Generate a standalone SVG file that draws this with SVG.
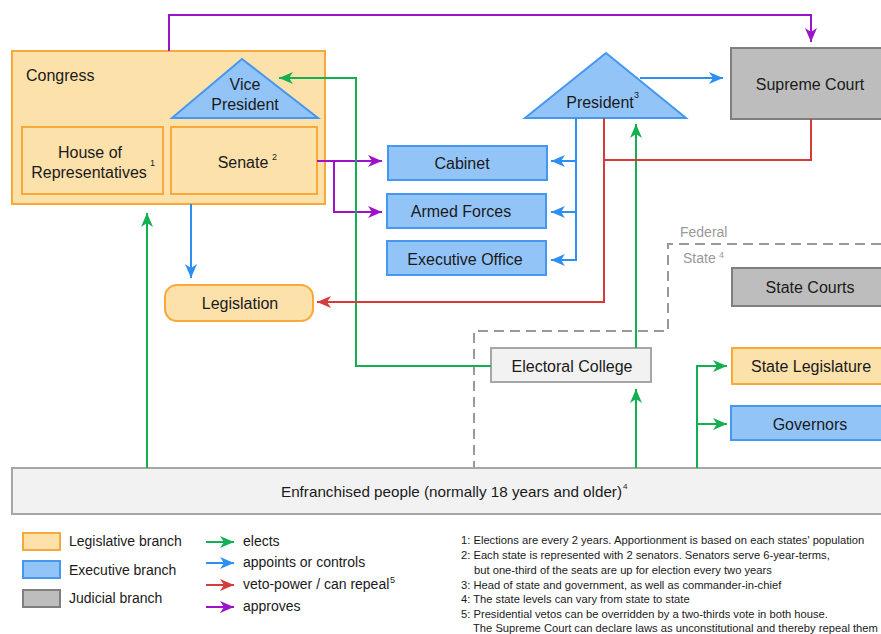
<svg xmlns="http://www.w3.org/2000/svg" width="881" height="634" viewBox="0 0 881 634">
<style>
text{font-family:"Liberation Sans",Arial,sans-serif;fill:#1a1a1a}
.lbl{font-size:16px;text-anchor:middle}
.sup{font-size:9px}
.leg{fill:#fde1ab;stroke:#f9a83b;stroke-width:2}
.exe{fill:#93c4f8;stroke:#4597ef;stroke-width:2}
.jud{fill:#bdbdbd;stroke:#7f7f7f;stroke-width:2}
.neu{fill:#f2f2f2;stroke:#a6a6a6;stroke-width:2}
.c{fill:none;stroke-width:2}
.g{stroke:#12b050}
.b{stroke:#2d8ff2}
.r{stroke:#d63b3b}
.p{stroke:#9d14c8}
.note{font-size:11.2px}
.lt{font-size:14px}
</style>
<defs>
<marker id="ag" viewBox="0 0 14 12" refX="14" refY="6" markerWidth="14" markerHeight="12" markerUnits="userSpaceOnUse" orient="auto"><path d="M0,0 L14,6 L0,12 L4,6 z" fill="#12b050"/></marker>
<marker id="ab" viewBox="0 0 14 12" refX="14" refY="6" markerWidth="14" markerHeight="12" markerUnits="userSpaceOnUse" orient="auto"><path d="M0,0 L14,6 L0,12 L4,6 z" fill="#2d8ff2"/></marker>
<marker id="ar" viewBox="0 0 14 12" refX="14" refY="6" markerWidth="14" markerHeight="12" markerUnits="userSpaceOnUse" orient="auto"><path d="M0,0 L14,6 L0,12 L4,6 z" fill="#d63b3b"/></marker>
<marker id="ap" viewBox="0 0 14 12" refX="14" refY="6" markerWidth="14" markerHeight="12" markerUnits="userSpaceOnUse" orient="auto"><path d="M0,0 L14,6 L0,12 L4,6 z" fill="#9d14c8"/></marker>
</defs>
<rect width="881" height="634" fill="#ffffff"/>

<g id="federal-state-border">
<path d="M881,244 H668 V331 H474 V468" fill="none" stroke="#999" stroke-width="2" stroke-dasharray="10,6"/>
<text x="680" y="237" style="font-size:14px;fill:#999">Federal</text>
<text x="683" y="263" style="font-size:14px;fill:#999">State</text>
<text x="719" y="258" style="font-size:9px;fill:#999">4</text>
</g>

<g id="congress">
<rect x="12" y="51" width="313" height="153" class="leg"/>
<text x="26" y="81" style="font-size:16px">Congress</text>
</g>
<g id="vice-president">
<path d="M242,59 L172,118 L318,118 z" class="exe"/>
<text x="245" y="90" class="lbl">Vice</text>
<text x="245" y="110" class="lbl">President</text>
</g>
<g id="house">
<rect x="22" y="127" width="141" height="67" class="leg"/>
<text x="90" y="158" class="lbl">House of</text>
<text x="89" y="178" class="lbl">Representatives</text>
<text x="150" y="166" class="sup">1</text>
</g>
<g id="senate">
<rect x="171" y="127" width="146" height="67" class="leg"/>
<text x="243" y="168" class="lbl">Senate</text>
<text x="272" y="160" class="sup">2</text>
</g>

<g id="cabinet">
<rect x="388" y="146" width="159" height="34" class="exe"/>
<text x="462" y="169" class="lbl">Cabinet</text>
</g>
<g id="armed-forces">
<rect x="387" y="194" width="159" height="34" class="exe"/>
<text x="461" y="217" class="lbl">Armed Forces</text>
</g>
<g id="executive-office">
<rect x="387" y="241" width="159" height="34" class="exe"/>
<text x="465" y="265" class="lbl">Executive Office</text>
</g>

<g id="president">
<path d="M606,53 L525,118 L686,118 z" class="exe"/>
<text x="600" y="108" class="lbl">President</text>
<text x="634" y="98" class="sup">3</text>
</g>

<g id="supreme-court">
<rect x="731" y="48" width="160" height="71" class="jud"/>
<text x="810" y="90" class="lbl">Supreme Court</text>
</g>

<g id="legislation">
<rect x="165" y="285" width="148" height="36" rx="12" class="leg"/>
<text x="240" y="309" class="lbl">Legislation</text>
</g>

<g id="state-courts">
<rect x="732" y="268" width="160" height="38" class="jud"/>
<text x="810" y="293" class="lbl">State Courts</text>
</g>
<g id="state-legislature">
<rect x="732" y="348" width="160" height="36" class="leg"/>
<text x="811" y="372" class="lbl">State Legislature</text>
</g>
<g id="governors">
<rect x="731" y="406" width="160" height="34" class="exe"/>
<text x="810" y="430" class="lbl">Governors</text>
</g>

<g id="electoral-college">
<rect x="491" y="348" width="160" height="34" class="neu"/>
<text x="572" y="372" class="lbl">Electoral College</text>
</g>

<g id="people">
<rect x="12" y="468" width="880" height="46" class="neu"/>
<text x="281" y="497" style="font-size:15px" textLength="341" lengthAdjust="spacingAndGlyphs">Enfranchised people (normally 18 years and older)</text>
<text x="623" y="489" style="font-size:8px">4</text>
</g>

<g id="connectors">
<path d="M169,51 V15 H811 V42" class="c p" marker-end="url(#ap)"/>
<path d="M317,161 H382" class="c p" marker-end="url(#ap)"/>
<path d="M334,161 V212 H382" class="c p" marker-end="url(#ap)"/>

<path d="M491,366 H356 V78 H279" class="c g" marker-end="url(#ag)"/>
<path d="M147,468 V213" class="c g" marker-end="url(#ag)"/>
<path d="M636,468 V389" class="c g" marker-end="url(#ag)"/>
<path d="M636,348 V124" class="c g" marker-end="url(#ag)"/>
<path d="M697,468 V366 H727" class="c g" marker-end="url(#ag)"/>
<path d="M697,424 H727" class="c g" marker-end="url(#ag)"/>

<path d="M640,78 H723" class="c b" marker-end="url(#ab)"/>
<path d="M576,118 V260 H551" class="c b" marker-end="url(#ab)"/>
<path d="M576,161 H551" class="c b" marker-end="url(#ab)"/>
<path d="M576,212 H551" class="c b" marker-end="url(#ab)"/>
<path d="M191,204 V278" class="c b" marker-end="url(#ab)"/>

<path d="M604,118 V302 H317" class="c r" marker-end="url(#ar)"/>
<path d="M811,119 V160 H604" class="c r"/>
</g>

<g id="legend">
<rect x="23" y="533" width="37" height="17" class="leg"/>
<rect x="23" y="561" width="37" height="17" class="exe"/>
<rect x="23" y="590" width="37" height="17" class="jud"/>
<text x="69" y="546" class="lt">Legislative branch</text>
<text x="69" y="575" class="lt">Executive branch</text>
<text x="69" y="603" class="lt">Judicial branch</text>
<path d="M206,542 H234" class="c g" marker-end="url(#ag)"/>
<path d="M206,563 H234" class="c b" marker-end="url(#ab)"/>
<path d="M206,585 H234" class="c r" marker-end="url(#ar)"/>
<path d="M206,607 H234" class="c p" marker-end="url(#ap)"/>
<text x="243" y="546" class="lt">elects</text>
<text x="243" y="567" class="lt">appoints or controls</text>
<text x="243" y="589" class="lt">veto-power / can repeal</text>
<text x="390" y="583" class="sup">5</text>
<text x="243" y="611" class="lt">approves</text>
</g>

<g id="footnotes">
<text x="461" y="544" class="note">1: Elections are every 2 years. Apportionment is based on each states' population</text>
<text x="461" y="559" class="note">2: Each state is represented with 2 senators. Senators serve 6-year-terms,</text>
<text x="474" y="574" class="note">but one-third of the seats are up for election every two years</text>
<text x="461" y="589" class="note">3: Head of state and government, as well as commander-in-chief</text>
<text x="461" y="603" class="note">4: The state levels can vary from state to state</text>
<text x="461" y="618" class="note">5: Presidential vetos can be overridden by a two-thirds vote in both house.</text>
<text x="473" y="632" class="note">The Supreme Court can declare laws as unconstitutional and thereby repeal them</text>
</g>
</svg>
